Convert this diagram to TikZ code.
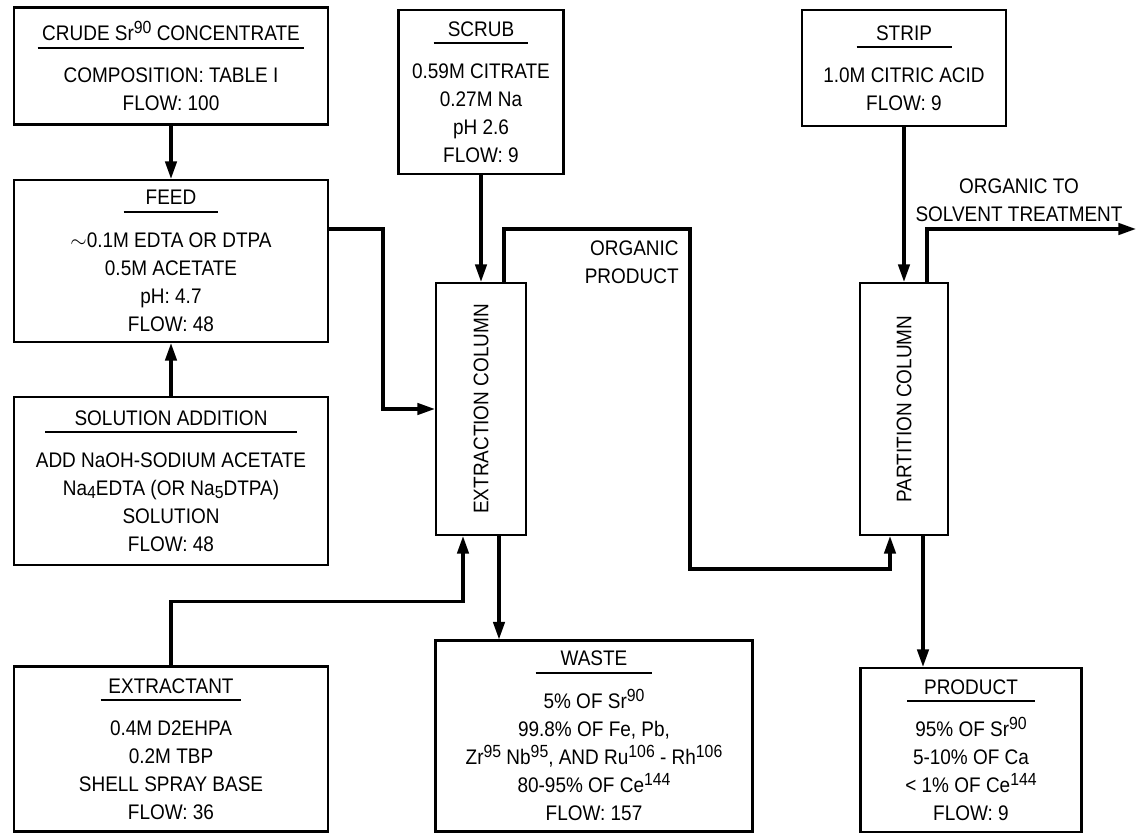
\documentclass[tikz,border=0pt]{standalone}
\usepackage{fontspec}
\setmainfont{Liberation Sans}[FakeStretch=0.9]
\usepackage{tikz}
\usetikzlibrary{arrows.meta, positioning}

% underlined box heading: width of the rule, then the text
\newcommand{\headline}[2]{\vtop{\hbox to #1{\hss#2\hss}\kern3.5pt\hrule height 1.1pt}}
% mass numbers and subscripts, set large as in the drawing
\newcommand{\iso}[1]{\raisebox{4pt}{\fontsize{10}{12}\selectfont #1}}
\newcommand{\idx}[1]{\raisebox{-2pt}{\fontsize{10}{12}\selectfont #1}}

\begin{document}
\begin{tikzpicture}[>={Triangle[length=10pt,width=6.5pt]}, x=0.02cm, y=-0.02cm,
		every node/.style={font=\fontsize{12}{16}\selectfont},
		box/.style={draw, line width=1.2pt, align=center, inner sep=2pt},
		flow/.style={->, line width=1.8pt},
		lbl/.style={align=center, inner sep=0pt}]
		\useasboundingbox (0,0) rectangle (1136,834);

		% Left column of boxes
		\node[box, minimum width=6.28cm, minimum height=2.34cm] (crude) at (171,66)
			{\headline{5.34cm}{CRUDE Sr\iso{90} CONCENTRATE}\\[8pt] COMPOSITION: TABLE I\\ FLOW: 100};
		\node[box, minimum width=6.28cm, minimum height=3.24cm] (feed) at (171,261)
			{\headline{1.9cm}{FEED}\\[8pt] $\sim$0.1M EDTA OR DTPA\\ 0.5M ACETATE\\ pH: 4.7\\ FLOW: 48};
		\node[box, minimum width=6.28cm, minimum height=3.36cm] (soln) at (171,481)
			{\headline{5.04cm}{SOLUTION ADDITION}\\[8pt] ADD NaOH-SODIUM ACETATE\\ Na\idx{4}EDTA (OR Na\idx{5}DTPA)\\ SOLUTION\\ FLOW: 48};
		\node[box, minimum width=6.28cm, minimum height=3.3cm] (extr) at (171,749)
			{\headline{2.82cm}{EXTRACTANT}\\[8pt] 0.4M D2EHPA\\ 0.2M TBP\\ SHELL SPRAY BASE\\ FLOW: 36};

		% Extraction side
		\node[box, minimum width=3.3cm, minimum height=3.28cm] (scrub) at (481,92)
			{\headline{1.9cm}{SCRUB}\\[8pt] 0.59M CITRATE\\ 0.27M Na\\ pH 2.6\\ FLOW: 9};
		\node[box, minimum width=1.8cm, minimum height=5.04cm] (excol) at (481,409)
			{\rotatebox{90}{EXTRACTION COLUMN}};
		\node[box, minimum width=6.34cm, minimum height=3.82cm] (waste) at (594,736)
			{\headline{2.34cm}{WASTE}\\[8pt] 5\% OF Sr\iso{90}\\ 99.8\% OF Fe, Pb,\\
			Zr\iso{95} Nb\iso{95}, AND Ru\iso{106} - Rh\iso{106}\\
			80-95\% OF Ce\iso{144}\\ FLOW: 157};

		% Partition side
		\node[box, minimum width=4.08cm, minimum height=2.32cm] (strip) at (904,68)
			{\headline{1.9cm}{STRIP}\\[8pt] 1.0M CITRIC ACID\\ FLOW: 9};
		\node[box, minimum width=1.76cm, minimum height=5.04cm] (partcol) at (904,409)
			{\rotatebox{90}{PARTITION COLUMN}};
		\node[box, minimum width=4.42cm, minimum height=3.28cm] (product) at (971,750)
			{\headline{2.56cm}{PRODUCT}\\[8pt] 95\% OF Sr\iso{90}\\ 5-10\% OF Ca\\ < 1\% OF Ce\iso{144}\\ FLOW: 9};

		% Flow labels
		\node[lbl, anchor=north east, align=right] (orglbl) at (679,240) {ORGANIC\\PRODUCT};
		\node[lbl, anchor=north] (solvlbl) at (1019,178) {ORGANIC TO\\SOLVENT TREATMENT};
		\coordinate (solv) at (1136,229);

		% Feed make-up
		\draw[flow] (crude) -- (feed);
		\draw[flow] (soln) -- (feed);

		% Into the extraction column
		\draw[flow] ([yshift=0.64cm]feed.east) -- ++(54,0) |- (excol.west);
		\draw[flow] (scrub) -- (excol);
		\draw[flow] (extr.north) -- ++(0,-64) -| ([xshift=-0.36cm]excol.south);

		% Out of the extraction column
		\draw[flow] ([xshift=0.36cm]excol.south) -- ([xshift=0.36cm]excol.south |- waste.north);
		\draw[flow] ([xshift=0.46cm]excol.north) -- ++(0,-53) -| ++(186,340) -| ([xshift=-0.28cm]partcol.south);

		% Partition column
		\draw[flow] (strip) -- (partcol);
		\draw[flow] ([xshift=0.46cm]partcol.north) |- (solv);
		\draw[flow] ([xshift=0.38cm]partcol.south) -- ([xshift=0.38cm]partcol.south |- product.north);

	\end{tikzpicture}
\end{document}
